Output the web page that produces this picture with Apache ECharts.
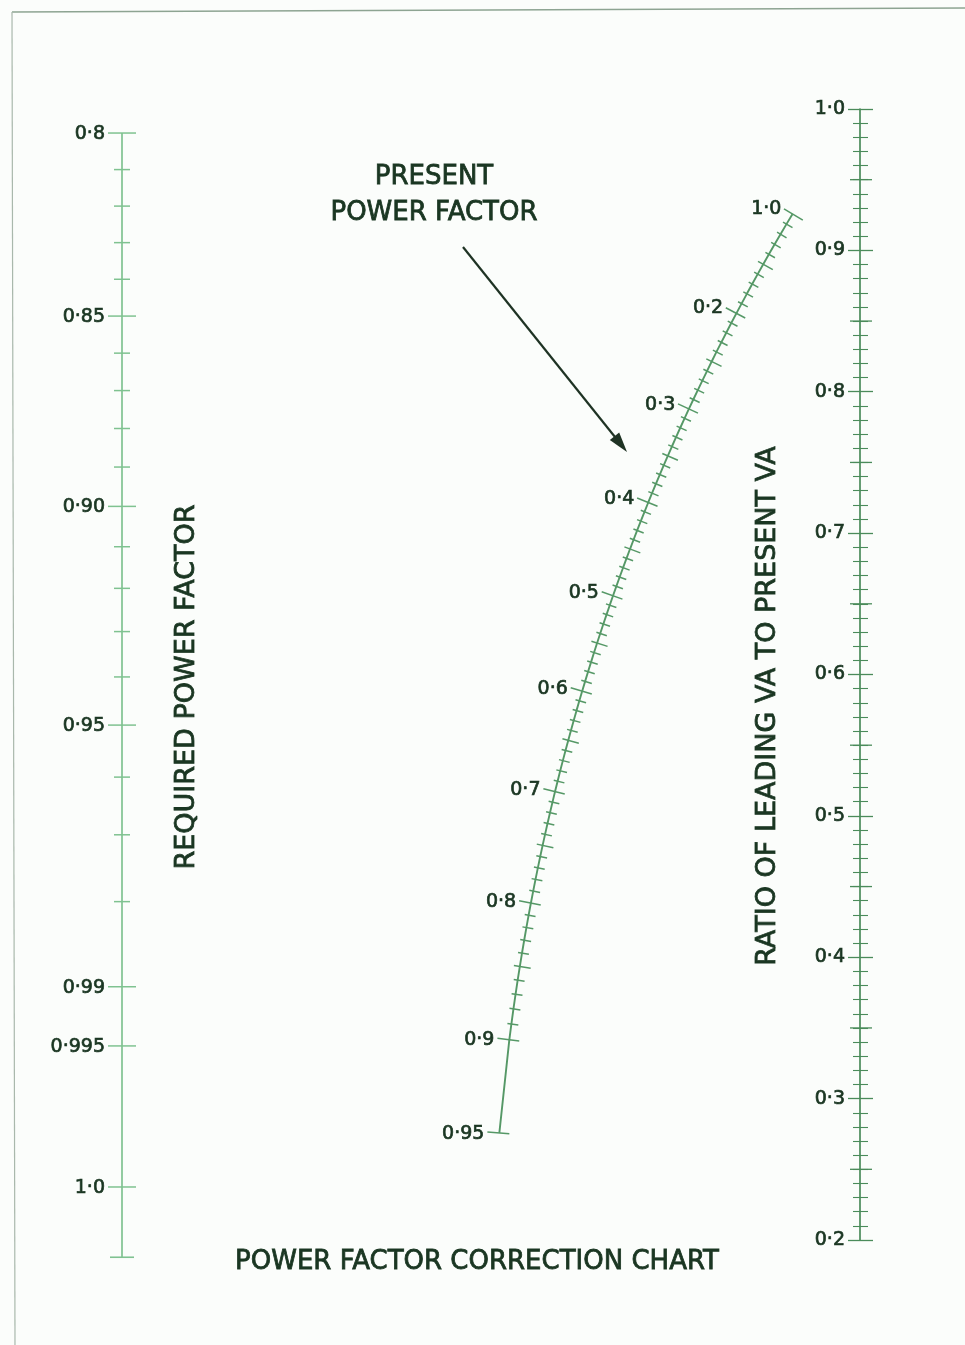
<!DOCTYPE html>
<html><head><meta charset="utf-8">
<script src="https://cdn.jsdelivr.net/npm/echarts@6/dist/echarts.min.js"></script>
<style>html,body{margin:0;padding:0;background:#fbfdfb}#c{width:965px;height:1345px}</style>
</head><body><div id="c"></div>
<script>
// ---------- data ----------
// Left scale: required power factor
const requiredLabelValues = [0.80, 0.85, 0.90, 0.95, 0.99, 0.995, 1.0];
const requiredLabelTexts  = ['0·8', '0·85', '0·90', '0·95', '0·99', '0·995', '1·0'];
const requiredMinorValues = [0.81,0.82,0.83,0.84,0.86,0.87,0.88,0.89,0.91,0.92,0.93,0.94,0.96,0.97,0.98];
const requiredAxisExtension = -0.05; // reactive-ratio value where the left rule ends below 1·0

// Middle curve: present power factor
const presentLabelValues = [0.1, 0.2, 0.3, 0.4, 0.5, 0.6, 0.7, 0.8, 0.9, 0.95];
const presentLabelTexts  = ['1·0', '0·2', '0·3', '0·4', '0·5', '0·6', '0·7', '0·8', '0·9', '0·95'];
const presentTickStart = 0.10, presentTickEnd = 0.90, presentTickStep = 0.01;

// Right scale: ratio of leading VA to present VA
const ratioMin = 0.2, ratioMax = 1.0, ratioInterval = 0.1, ratioMinorSplit = 10;
const ratioHalfTicks = [0.25, 0.35, 0.45, 0.55, 0.65, 0.75, 0.85, 0.95];

// Nomogram geometry: left scale holds tan(phi2) with vertical offset/scale relative to ratio scale
const A = 0.2375, B = 0.994;

// ---------- helpers ----------
function graduations(a, b, step) {
  const out = []; const n = Math.round((b - a) / step);
  for (let i = 0; i <= n; i++) out.push(+(a + i * step).toFixed(4));
  return out;
}
function leftY(pf) { const t = Math.sqrt(1 - pf * pf) / pf; return A + B * t; }
function midPos(pf) {
  const s = Math.sqrt(1 - pf * pf);
  return [B / (B + pf), (pf * A + B * s) / (B + pf)];
}

const presentTicks = graduations(presentTickStart, presentTickEnd, presentTickStep).concat([0.95]);

const TXT = '#1a3622';
const GL = '#7fc290';   // left scale
const GM = '#559866';   // middle curve
const GR = '#4a8b5a';   // right scale
const FONT_NUM = '19px "DejaVu Sans"';
const numStyle = { fill: TXT, font: FONT_NUM, stroke: TXT, lineWidth: 0.7 };
const titleStyle = (size) => ({ align: 'center', verticalAlign: 'middle', fill: TXT, stroke: TXT, lineWidth: 0.8, font: size + 'px "DejaVu Sans"' });

// ---------- series data ----------
const leftData = [];
requiredLabelValues.forEach((v, i) => leftData.push([0, leftY(v), v, 1, requiredLabelTexts[i]]));
requiredMinorValues.forEach(v => leftData.push([0, leftY(v), v, 0, '']));

const midData = presentTicks.map(pf => {
  const li = presentLabelValues.findIndex(v => Math.abs(v - pf) < 1e-6);
  const pc = Math.round(pf * 100);
  const kind = li >= 0 ? 2 : (pc % 5 === 0 ? 1 : 0);
  const p = midPos(pf);
  return [p[0], p[1], pf, kind, li >= 0 ? presentLabelTexts[li] : ''];
});

const option = {
  backgroundColor: '#fbfdfb',
  animation: false,
  grid: { left: 122, right: 105, top: 109, bottom: 105 },
  xAxis: { type: 'value', min: 0, max: 1, show: false },
  yAxis: [{
    type: 'value', min: ratioMin, max: ratioMax, interval: ratioInterval, position: 'right',
    axisLine: { show: true, onZero: false, lineStyle: { color: GR, width: 1.7 } },
    axisTick: { show: true, inside: false, length: 13, lineStyle: { color: GR, width: 1.3 } },
    minorTick: { show: true, splitNumber: ratioMinorSplit, length: 8, lineStyle: { color: GR, width: 1.1 } },
    axisLabel: { inside: true, margin: 15, color: TXT, fontSize: 19, fontFamily: 'DejaVu Sans',
      textBorderColor: TXT, textBorderWidth: 0.7,
      formatter: v => v.toFixed(1).replace('.', '·') },
    splitLine: { show: false }
  }, {
    type: 'value', min: ratioMin, max: ratioMax, interval: ratioInterval, position: 'right',
    axisLine: { show: false, onZero: false },
    axisTick: { show: true, inside: true, length: 12, lineStyle: { color: GR, width: 1.3 } },
    minorTick: { show: true, splitNumber: ratioMinorSplit, length: 7, lineStyle: { color: GR, width: 1.1 } },
    axisLabel: { show: false },
    splitLine: { show: false }
  }],
  series: [
    // left rule
    { type: 'line', clip: false, symbol: 'none', silent: true,
      lineStyle: { color: GL, width: 1.7 },
      data: [[0, leftY(0.8)], [0, A + B * requiredAxisExtension]] },
    // left ticks & labels
    { type: 'custom', clip: false, silent: true, data: leftData,
      renderItem: (params, api) => {
        const p = api.coord([api.value(0), api.value(1)]);
        const kind = api.value(3);
        const text = leftData[params.dataIndex][4];
        const l = kind ? 14 : 8, r = kind ? 14 : 8;
        const ch = [{ type: 'line', shape: { x1: p[0] - l, y1: p[1], x2: p[0] + r, y2: p[1] },
          style: { stroke: GL, lineWidth: 1.5 } }];
        if (text) ch.push({ type: 'text', x: p[0] - 17, y: p[1] + 1,
          style: Object.assign({ text, align: 'right', verticalAlign: 'middle' }, numStyle) });
        return { type: 'group', children: ch };
      } },
    // left rule bottom end bar
    { type: 'custom', clip: false, silent: true, data: [[0, A + B * requiredAxisExtension]],
      renderItem: (params, api) => {
        const p = api.coord([api.value(0), api.value(1)]);
        return { type: 'line', shape: { x1: p[0] - 12, y1: p[1], x2: p[0] + 12, y2: p[1] },
          style: { stroke: GL, lineWidth: 1.6 } };
      } },
    // middle curve
    { type: 'line', clip: false, symbol: 'none', silent: true,
      lineStyle: { color: GM, width: 1.9 },
      data: presentTicks.map(midPos) },
    // middle ticks & labels
    { type: 'custom', clip: false, silent: true, data: midData,
      renderItem: (params, api) => {
        const pf = api.value(2), kind = api.value(3);
        const text = midData[params.dataIndex][4];
        const p = api.coord([api.value(0), api.value(1)]);
        const a = api.coord(midPos(pf - 0.004)), b = api.coord(midPos(Math.min(pf + 0.004, 0.999)));
        let dx = b[0] - a[0], dy = b[1] - a[1];
        const len = Math.hypot(dx, dy); dx /= len; dy /= len;
        const nx = dy, ny = -dx; // normal pointing right/down
        let l = 4, r = 7;
        if (kind === 1) { l = 6; r = 11; }
        if (kind === 2) { l = 12; r = 10; }
        if (pf === 0.1) { l = 10; r = 12; }
        const ch = [{ type: 'line',
          shape: { x1: p[0] - l * nx, y1: p[1] - l * ny, x2: p[0] + r * nx, y2: p[1] + r * ny },
          style: { stroke: GM, lineWidth: 1.5 } }];
        if (text) ch.push({ type: 'text', x: p[0] - (l + 3) * nx, y: p[1] - (l + 3) * ny + 2,
          style: Object.assign({ text, align: 'right', verticalAlign: 'middle' }, numStyle) });
        return { type: 'group', children: ch };
      } },
    // right scale half-interval ticks
    { type: 'custom', clip: false, silent: true, data: ratioHalfTicks.map(v => [1, v]),
      renderItem: (params, api) => {
        const p = api.coord([api.value(0), api.value(1)]);
        return { type: 'line', shape: { x1: p[0] - 10, y1: p[1], x2: p[0] + 12, y2: p[1] },
          style: { stroke: GR, lineWidth: 1.3 } };
      } }
  ],
  graphic: [
    { type: 'line', shape: { x1: 12, y1: 12, x2: 965, y2: 8 }, style: { stroke: '#8da492', lineWidth: 1.5 } },
    { type: 'line', shape: { x1: 12, y1: 12, x2: 15, y2: 1345 }, style: { stroke: '#a9b8ac', lineWidth: 1.2 } },
    { type: 'text', x: 434, y: 177, style: Object.assign({ text: 'PRESENT' }, titleStyle(26)) },
    { type: 'text', x: 434, y: 213, style: Object.assign({ text: 'POWER FACTOR' }, titleStyle(26)) },
    { type: 'text', x: 187, y: 687, rotation: Math.PI / 2, style: Object.assign({ text: 'REQUIRED POWER FACTOR' }, titleStyle(27)) },
    { type: 'text', x: 768, y: 706, rotation: Math.PI / 2, style: Object.assign({ text: 'RATIO OF LEADING VA TO PRESENT VA' }, titleStyle(27)) },
    { type: 'text', x: 477, y: 1262, style: Object.assign({ text: 'POWER FACTOR CORRECTION CHART' }, titleStyle(26)) },
    { type: 'line', shape: { x1: 463, y1: 247, x2: 615, y2: 437 }, style: { stroke: '#1f3324', lineWidth: 2.2 } },
    { type: 'polygon', shape: { points: [[627, 452], [609.8, 440.1], [619.2, 432.6]] }, style: { fill: '#1f3324' } }
  ]
};

const chart = echarts.init(document.getElementById('c'), null, { renderer: 'canvas' });
chart.setOption(option);
</script>
</body></html>
